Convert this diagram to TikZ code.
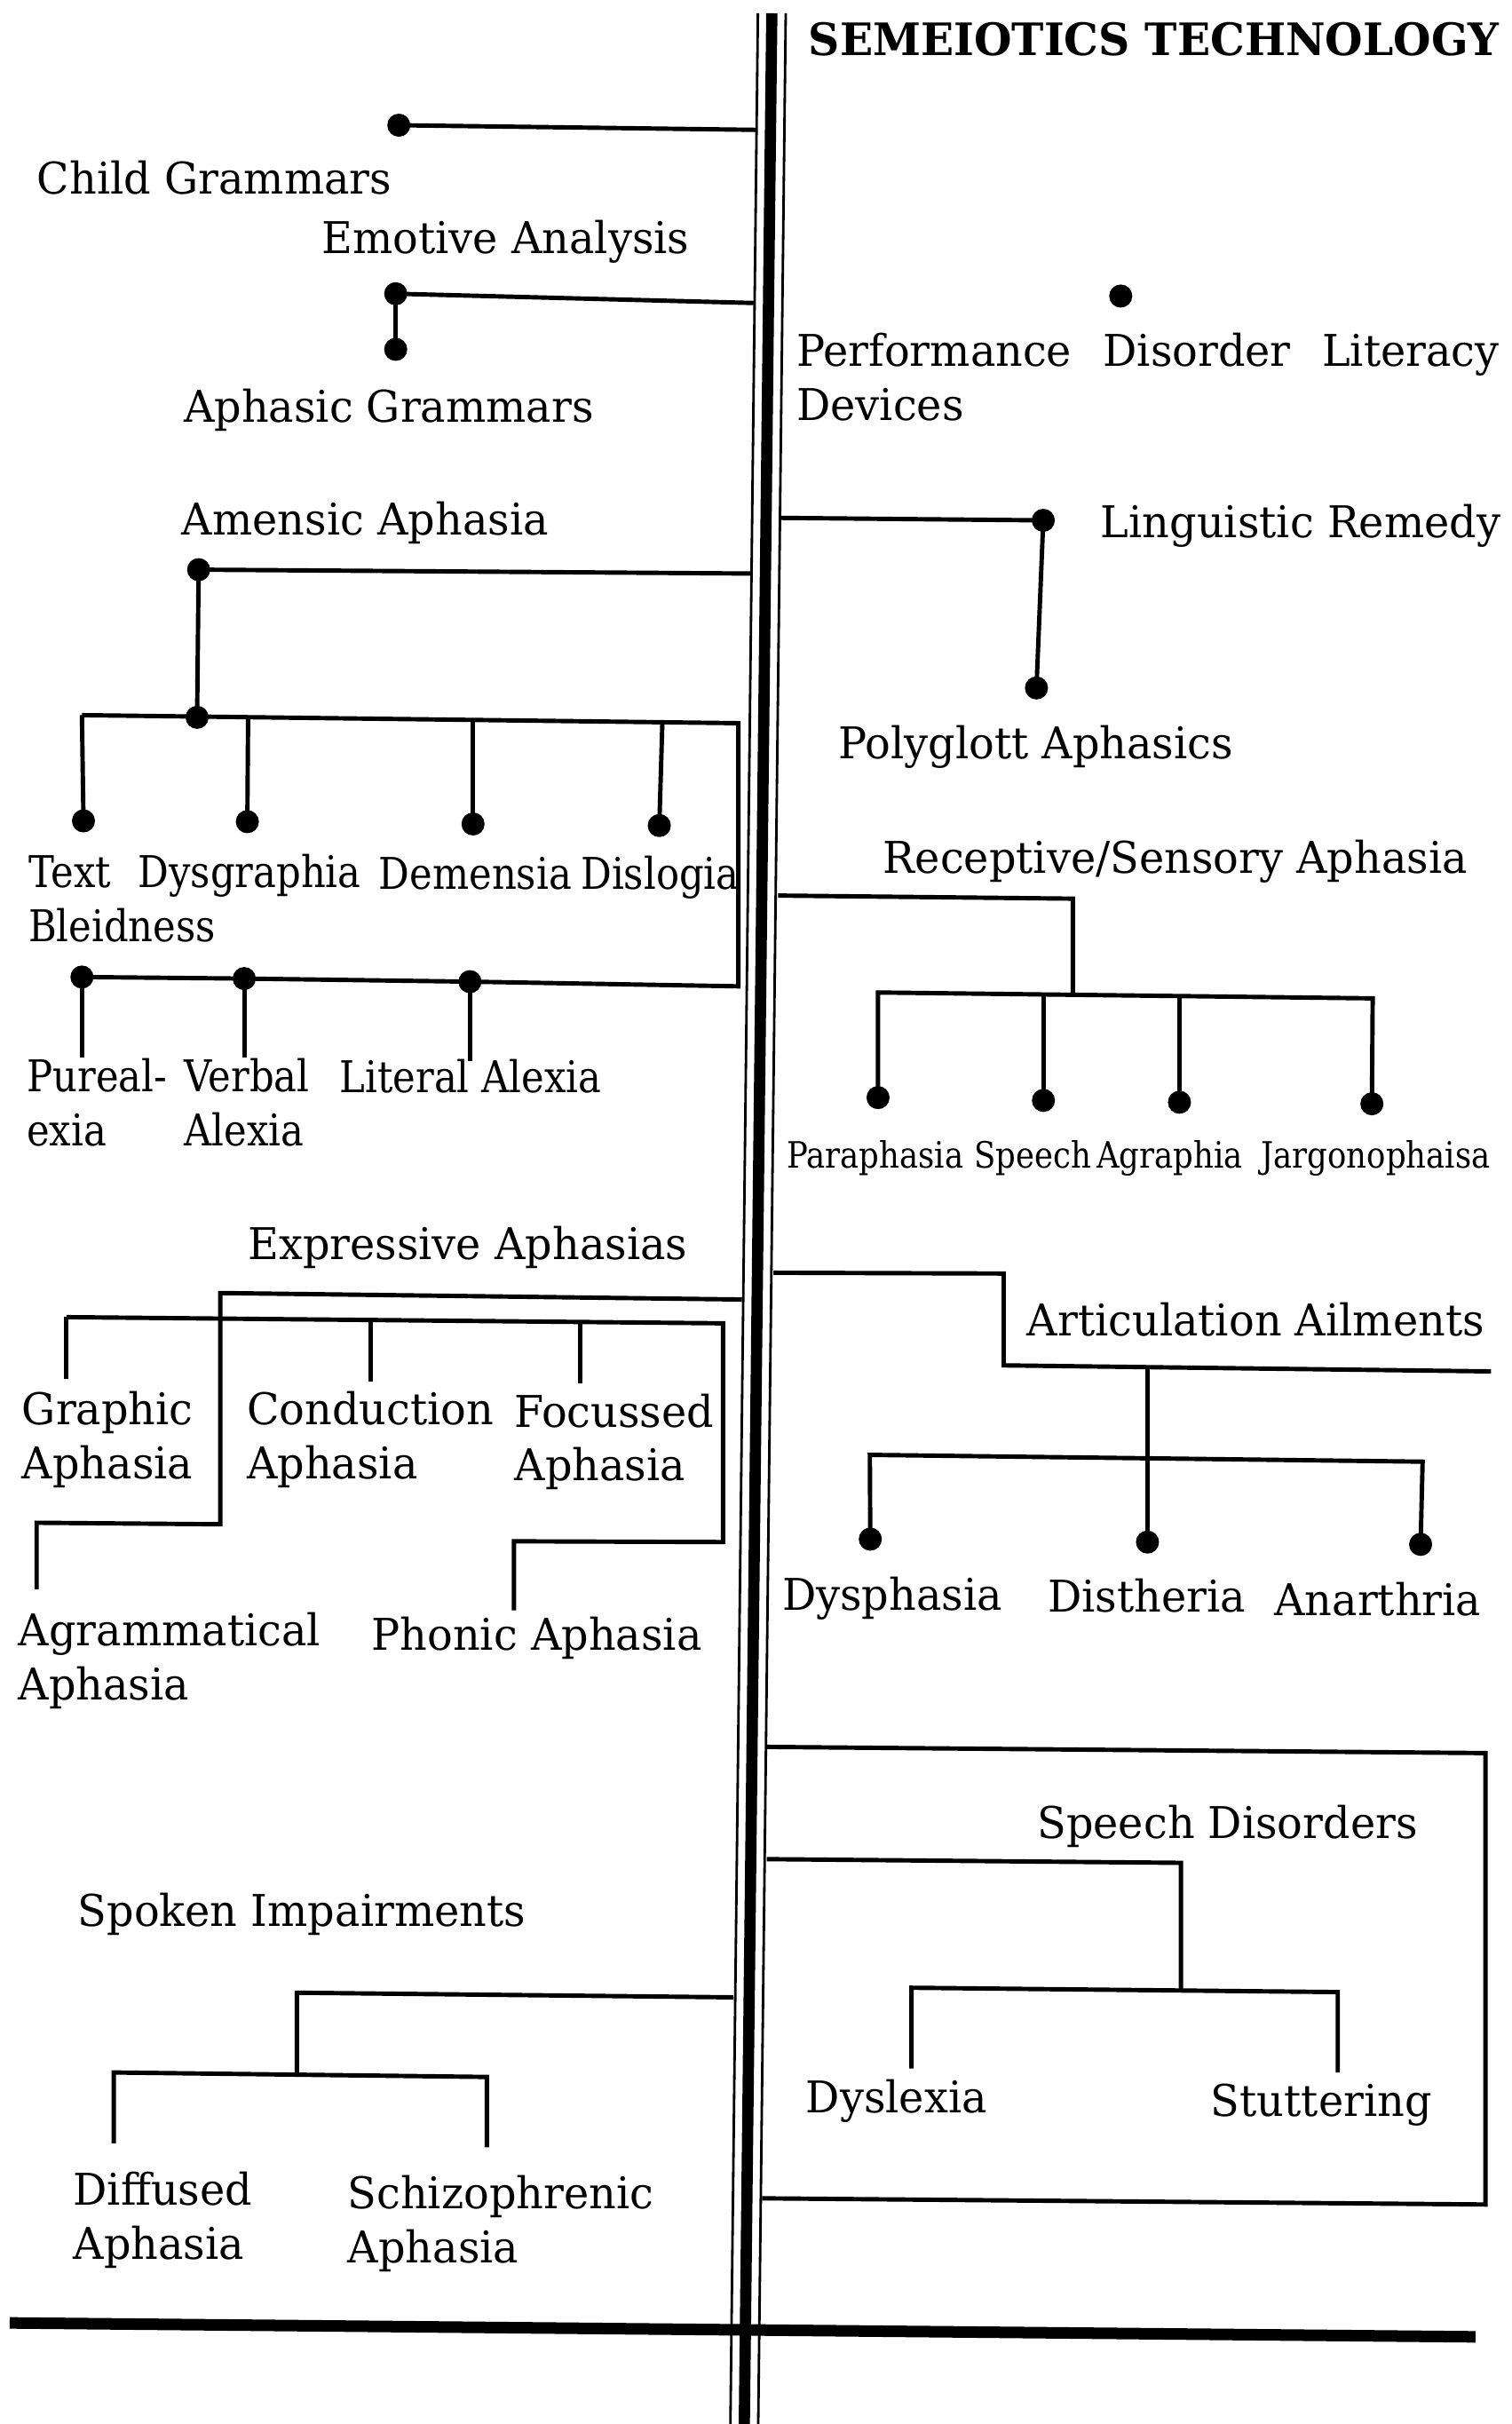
\documentclass[tikz,border=0pt]{standalone}
\usepackage{fontspec}
\setmainfont{DejaVu Serif}[FakeStretch=0.97]
\newfontfamily\smallfont[FakeStretch=0.87]{DejaVu Serif}
\newfontfamily\narrowfont[FakeStretch=0.88]{DejaVu Serif}
\begin{document}
\begin{tikzpicture}[x=0.17403mm, y=-0.17403mm,
  ln/.style={line width=1.4pt, line join=miter},
  thin/.style={line width=0.8pt},
  thick/.style={line width=3.6pt},
  dot/.style={circle, fill=black, inner sep=0pt, minimum size=2.6mm},
  lab/.style={anchor=base west, inner sep=0pt, align=left, font=\fontsize{14}{17.3}\selectfont},
  nlab/.style={anchor=base west, inner sep=0pt, align=left, font=\narrowfont\fontsize{14}{17.3}\selectfont},
  sml/.style={anchor=base west, inner sep=0pt, font=\smallfont\fontsize{11.6}{14}\selectfont},
  ttl/.style={anchor=base west, inner sep=0pt, font=\bfseries\fontsize{14.3}{15}\selectfont}]

\fill[white] (0,0) rectangle (978,1568);
\useasboundingbox (0,0) rectangle (978,1568);

% spine
\coordinate (sLt) at (490.3,8.6); \coordinate (sLb) at (472.5,1568);
\coordinate (sCt) at (499.3,8.6); \coordinate (sCb) at (481.5,1568);
\coordinate (sRt) at (508.3,8.6); \coordinate (sRb) at (490.5,1568);
\draw[thin] (sLt) -- (sLb);
\draw[thick] (sCt) -- (sCb);
\draw[thin] (sRt) -- (sRb);

% bottom rule
\coordinate (bl) at (6.3,1502.6); \coordinate (br) at (954.5,1511.6);
\draw[line width=3.7pt] (bl) -- (br);

% labels (multi-line labels are placed by the baseline of their last line)
\node[ttl] (title) at (522.8,35.9) {SEMEIOTICS TECHNOLOGY};
\node[lab] (child) at (23.7,125.7) {Child Grammars};
\node[lab] (emot) at (207.8,163.7) {Emotive Analysis};
\node[lab] (aphg) at (118.5,273.2) {Aphasic Grammars};
\node[lab] (amen) at (117.3,346.3) {Amensic Aphasia};
\node[nlab] (text) at (18,609) {Text\\Bleidness};
\node[nlab] (dysg) at (89,574) {Dysgraphia};
\node[nlab] (deme) at (244.8,575) {Demensia};
\node[nlab] (dislo) at (375.4,575) {Dislogia};
\node[nlab] (pure) at (17,741) {Pureal-\\exia};
\node[nlab] (verb) at (118.8,741) {Verbal\\Alexia};
\node[nlab] (lite) at (219.4,707) {Literal Alexia};
\node[lab] (expr) at (160,815) {Expressive Aphasias};
\node[lab] (graph) at (13.9,956.5) {Graphic\\Aphasia};
\node[lab] (cond) at (159.3,956.5) {Conduction\\Aphasia};
\node[lab] (focu) at (332.5,958) {Focussed\\Aphasia};
\node[lab] (agra) at (11.5,1099.5) {Agrammatical\\Aphasia};
\node[lab] (phon) at (240,1067.5) {Phonic Aphasia};
\node[lab] (spok) at (50,1246) {Spoken Impairments};
\node[lab] (diff) at (47,1461.5) {Diffused\\Aphasia};
\node[lab] (schi) at (224.6,1463.5) {Schizophrenic\\Aphasia};

\node[lab] (perf) at (515,272) {\makebox[79.08mm][s]{Performance Disorder Literacy}\\Devices};
\node[lab] (ling) at (711.7,347.7) {Linguistic Remedy};
\node[lab] (poly) at (542,490.5) {Polyglott Aphasics};
\node[lab] (rece) at (571,565) {Receptive/Sensory Aphasia};
\node[sml] (para) at (508.6,755.6) {Paraphasia};
\node[sml] (spee) at (630,755.6) {Speech};
\node[sml] (agrp) at (709,755.6) {Agraphia};
\node[sml] (jarg) at (815.5,755.6) {Jargonophaisa};
\node[lab] (arti) at (664,864) {Articulation Ailments};
\node[lab] (dysp) at (505.7,1041.7) {Dysphasia};
\node[lab] (dist) at (677.4,1042.6) {Distheria};
\node[lab] (anar) at (824,1045) {Anarthria};
\node[lab] (spd) at (670.7,1189) {Speech Disorders};
\node[lab] (dysl) at (521,1366.5) {Dyslexia};
\node[lab] (stut) at (783,1368.8) {Stuttering};

% ---- left: child / emotive / aphasic
\node[dot] (d1) at (258,81) {};
\coordinate (a1) at (489,84);
\draw[ln] (d1.center) -- (a1);
\node[dot] (d2) at (256,190) {};
\node[dot] (d3) at (256,226) {};
\coordinate (a2) at (487.5,196);
\draw[ln] (d2.center) -- (a2);
\draw[ln] (d2.center) -- (d3.center);

% ---- amensic
\node[dot] (d4) at (128.5,368.5) {};
\node[dot] (d5) at (127.5,464) {};
\coordinate (a4) at (486,371);
\draw[ln] (d4.center) -- (a4);
\draw[ln] (d4.center) -- (d5.center);
\coordinate (b1L) at (53,462.6);
\coordinate (b1R) at (477.6,467.8);
\coordinate (b1Rb) at (477.6,638);
\coordinate (t2) at (160.5,463.9);
\coordinate (t3) at (306,465.7);
\coordinate (t4) at (428.5,467.2);
\node[dot] (dText) at (54,531) {};
\node[dot] (dDys) at (160,531.5) {};
\node[dot] (dDem) at (306,533) {};
\node[dot] (dDis) at (426.5,534) {};
\node[dot] (dPur) at (53,632) {};
\node[dot] (dVer) at (158,633) {};
\node[dot] (dLit) at (304,635) {};
\draw[ln] (b1L) -- (b1R) -- (b1Rb) -- (dLit.center) -- (dVer.center) -- (dPur.center);
\draw[ln] (b1L) -- (dText.center);
\draw[ln] (t2) -- (dDys.center);
\draw[ln] (t3) -- (dDem.center);
\draw[ln] (t4) -- (dDis.center);
\coordinate (e1) at (53,684);
\coordinate (e2) at (158,684);
\coordinate (e3) at (304,686.5);
\draw[ln] (dPur.center) -- (e1);
\draw[ln] (dVer.center) -- (e2);
\draw[ln] (dLit.center) -- (e3);

% ---- expressive
\coordinate (x1) at (480,840.6);
\coordinate (x2) at (142.5,836.4);
\coordinate (x3) at (142.5,986);
\coordinate (x4) at (23.7,985);
\coordinate (x5) at (23.7,1028);
\draw[ln] (x1) -- (x2) -- (x3) -- (x4) -- (x5);
\coordinate (g1) at (43,852);
\coordinate (g2) at (467.7,856);
\coordinate (g3) at (467.7,997.5);
\coordinate (g4) at (332.5,997);
\coordinate (g5) at (332.5,1041.7);
\draw[ln] (g1) -- (g2) -- (g3) -- (g4) -- (g5);
\coordinate (gE1) at (43,892);
\coordinate (gC0) at (240,853.9);
\coordinate (gC1) at (240,893.5);
\coordinate (gF0) at (375.5,855.2);
\coordinate (gF1) at (375.5,895);
\draw[ln] (g1) -- (gE1);
\draw[ln] (gC0) -- (gC1);
\draw[ln] (gF0) -- (gF1);

% ---- spoken
\coordinate (s1) at (474.5,1292);
\coordinate (s2) at (192,1289);
\coordinate (s3) at (192,1341.5);
\draw[ln] (s1) -- (s2) -- (s3);
\coordinate (sb1) at (73.6,1340.6);
\coordinate (sb2) at (315,1343.5);
\coordinate (sd1) at (73.6,1386.4);
\coordinate (sd2) at (315,1389);
\draw[ln] (sd1) -- (sb1) -- (sb2) -- (sd2);

% ---- right: performance dot
\node[dot] (dPerf) at (725,191.5) {};

% ---- linguistic
\coordinate (l1) at (505,335);
\node[dot] (dLing) at (674.9,336.6) {};
\node[dot] (dPoly) at (670.5,445) {};
\draw[ln] (l1) -- (dLing.center) -- (dPoly.center);

% ---- receptive
\coordinate (r1) at (503.4,579.3);
\coordinate (r2) at (694,581.3);
\coordinate (r3) at (694,643.5);
\draw[ln] (r1) -- (r2) -- (r3);
\coordinate (rb1) at (568,642);
\coordinate (rb2) at (888,645.8);
\coordinate (rb3) at (675,643.2);
\coordinate (rb4) at (763,644.3);
\node[dot] (dPar) at (568,710) {};
\node[dot] (dSpe) at (675,711.8) {};
\node[dot] (dAgr) at (763,713) {};
\node[dot] (dJar) at (887.5,714) {};
\draw[ln] (dPar.center) -- (rb1) -- (rb2) -- (dJar.center);
\draw[ln] (rb3) -- (dSpe.center);
\draw[ln] (rb4) -- (dAgr.center);

% ---- articulation
\coordinate (q1) at (500.3,823.3);
\coordinate (q2) at (649.3,823.8);
\coordinate (q3) at (649.3,883.2);
\coordinate (q4) at (964.6,887.1);
\draw[ln] (q1) -- (q2) -- (q3) -- (q4);
\coordinate (qc) at (742.3,884.4);
\node[dot] (dDst) at (742.3,997.5) {};
\draw[ln] (qc) -- (dDst.center);
\coordinate (qb1) at (562.7,941.1);
\coordinate (qb2) at (920.3,945.5);
\node[dot] (dDsp) at (563,995.6) {};
\node[dot] (dAna) at (919,999) {};
\draw[ln] (dDsp.center) -- (qb1) -- (qb2) -- (dAna.center);

% ---- speech disorders box
\coordinate (k1) at (496,1130);
\coordinate (k2) at (961,1134);
\coordinate (k3) at (961,1426);
\coordinate (k4) at (493,1422);
\draw[ln] (k1) -- (k2) -- (k3) -- (k4);
\coordinate (m1) at (496,1202.6);
\coordinate (m2) at (764,1205);
\coordinate (m3) at (764,1286.8);
\draw[ln] (m1) -- (m2) -- (m3);
\coordinate (mb1) at (589.6,1285.8);
\coordinate (mb2) at (865.4,1288.6);
\coordinate (md1) at (589.6,1338);
\coordinate (md2) at (865.4,1340.6);
\draw[ln] (md1) -- (mb1) -- (mb2) -- (md2);
\end{tikzpicture}
\end{document}
